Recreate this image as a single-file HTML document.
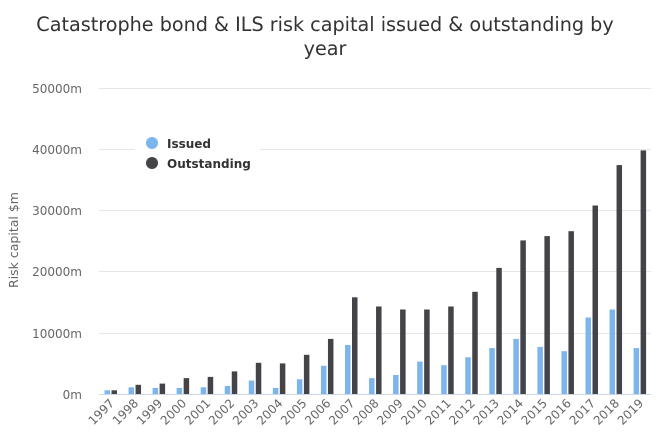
<!DOCTYPE html>
<html><head><meta charset="utf-8"><style>
body{margin:0;background:#fff;}
svg{display:block;font-family:"DejaVu Sans","Liberation Sans",sans-serif;}
</style></head><body>
<svg width="664" height="435" viewBox="0 0 664 435" xmlns="http://www.w3.org/2000/svg">
<text x="325" y="31" text-anchor="middle" font-size="19.2" fill="#333">Catastrophe bond &amp; ILS risk capital issued &amp; outstanding by</text>
<text x="325" y="55" text-anchor="middle" font-size="19.2" fill="#333">year</text>
<g stroke="#e6e6e6" stroke-width="1">
<line x1="99" x2="651" y1="88.5" y2="88.5"/>
<line x1="99" x2="651" y1="149.5" y2="149.5"/>
<line x1="99" x2="651" y1="210.5" y2="210.5"/>
<line x1="99" x2="651" y1="271.5" y2="271.5"/>
<line x1="99" x2="651" y1="333.5" y2="333.5"/>
</g>
<line x1="99" x2="651" y1="394.5" y2="394.5" stroke="#ccd6eb"/>
<g font-size="12" fill="#666" text-anchor="end">
<text x="82" y="93">50000m</text>
<text x="82" y="154">40000m</text>
<text x="82" y="215">30000m</text>
<text x="82" y="276">20000m</text>
<text x="82" y="338">10000m</text>
<text x="82" y="399">0m</text>
</g>
<text transform="translate(18,240) rotate(-90)" text-anchor="middle" font-size="12.5" fill="#666">Risk capital $m</text>
<g transform="translate(0,394) scale(1,-1)">
<g fill="#7cb5ec">
<rect x="104.5" width="5.5" height="3.7"/><rect x="128.55" width="5.5" height="6.7"/><rect x="152.6" width="5.5" height="6.1"/><rect x="176.65" width="5.5" height="6.1"/><rect x="200.7" width="5.5" height="6.7"/><rect x="224.75" width="5.5" height="8"/><rect x="248.8" width="5.5" height="13.5"/><rect x="272.85" width="5.5" height="6.1"/><rect x="296.9" width="5.5" height="14.7"/><rect x="320.95" width="5.5" height="28.2"/><rect x="345" width="5.5" height="49"/><rect x="369.05" width="5.5" height="15.9"/><rect x="393.1" width="5.5" height="19"/><rect x="417.15" width="5.5" height="32.4"/><rect x="441.2" width="5.5" height="28.8"/><rect x="465.25" width="5.5" height="36.7"/><rect x="489.3" width="5.5" height="45.9"/><rect x="513.35" width="5.5" height="55.1"/><rect x="537.4" width="5.5" height="47.1"/><rect x="561.45" width="5.5" height="42.8"/><rect x="585.5" width="5.5" height="76.5"/><rect x="609.55" width="5.5" height="84.5"/><rect x="633.6" width="5.5" height="45.9"/>
</g>
<g fill="#434348">
<rect x="111.5" width="5.5" height="3.7"/><rect x="135.55" width="5.5" height="9.2"/><rect x="159.6" width="5.5" height="10.4"/><rect x="183.65" width="5.5" height="15.9"/><rect x="207.7" width="5.5" height="17.1"/><rect x="231.75" width="5.5" height="22.6"/><rect x="255.8" width="5.5" height="31.2"/><rect x="279.85" width="5.5" height="30.6"/><rect x="303.9" width="5.5" height="39.2"/><rect x="327.95" width="5.5" height="55.1"/><rect x="352" width="5.5" height="96.7"/><rect x="376.05" width="5.5" height="87.5"/><rect x="400.1" width="5.5" height="84.5"/><rect x="424.15" width="5.5" height="84.5"/><rect x="448.2" width="5.5" height="87.5"/><rect x="472.25" width="5.5" height="102.2"/><rect x="496.3" width="5.5" height="126.1"/><rect x="520.35" width="5.5" height="153.6"/><rect x="544.4" width="5.5" height="157.9"/><rect x="568.45" width="5.5" height="162.8"/><rect x="592.5" width="5.5" height="188.5"/><rect x="616.55" width="5.5" height="228.9"/><rect x="640.6" width="5.5" height="243.6"/>
</g>
</g>
<g font-size="12" fill="#666" text-anchor="end">
<text transform="translate(115,404) rotate(-45)">1997</text>
<text transform="translate(139.05,404) rotate(-45)">1998</text>
<text transform="translate(163.1,404) rotate(-45)">1999</text>
<text transform="translate(187.15,404) rotate(-45)">2000</text>
<text transform="translate(211.2,404) rotate(-45)">2001</text>
<text transform="translate(235.25,404) rotate(-45)">2002</text>
<text transform="translate(259.3,404) rotate(-45)">2003</text>
<text transform="translate(283.35,404) rotate(-45)">2004</text>
<text transform="translate(307.4,404) rotate(-45)">2005</text>
<text transform="translate(331.45,404) rotate(-45)">2006</text>
<text transform="translate(355.5,404) rotate(-45)">2007</text>
<text transform="translate(379.55,404) rotate(-45)">2008</text>
<text transform="translate(403.6,404) rotate(-45)">2009</text>
<text transform="translate(427.65,404) rotate(-45)">2010</text>
<text transform="translate(451.7,404) rotate(-45)">2011</text>
<text transform="translate(475.75,404) rotate(-45)">2012</text>
<text transform="translate(499.8,404) rotate(-45)">2013</text>
<text transform="translate(523.85,404) rotate(-45)">2014</text>
<text transform="translate(547.9,404) rotate(-45)">2015</text>
<text transform="translate(571.95,404) rotate(-45)">2016</text>
<text transform="translate(596,404) rotate(-45)">2017</text>
<text transform="translate(620.05,404) rotate(-45)">2018</text>
<text transform="translate(644.1,404) rotate(-45)">2019</text>
</g>
<rect x="135" y="132" width="125" height="44" fill="#fff"/>
<circle cx="152" cy="143" r="6" fill="#7cb5ec"/>
<circle cx="152" cy="163" r="6" fill="#434348"/>
<g font-size="12" font-weight="bold" fill="#333">
<text x="167" y="148">Issued</text>
<text x="167" y="168">Outstanding</text>
</g>
</svg>
</body></html>
